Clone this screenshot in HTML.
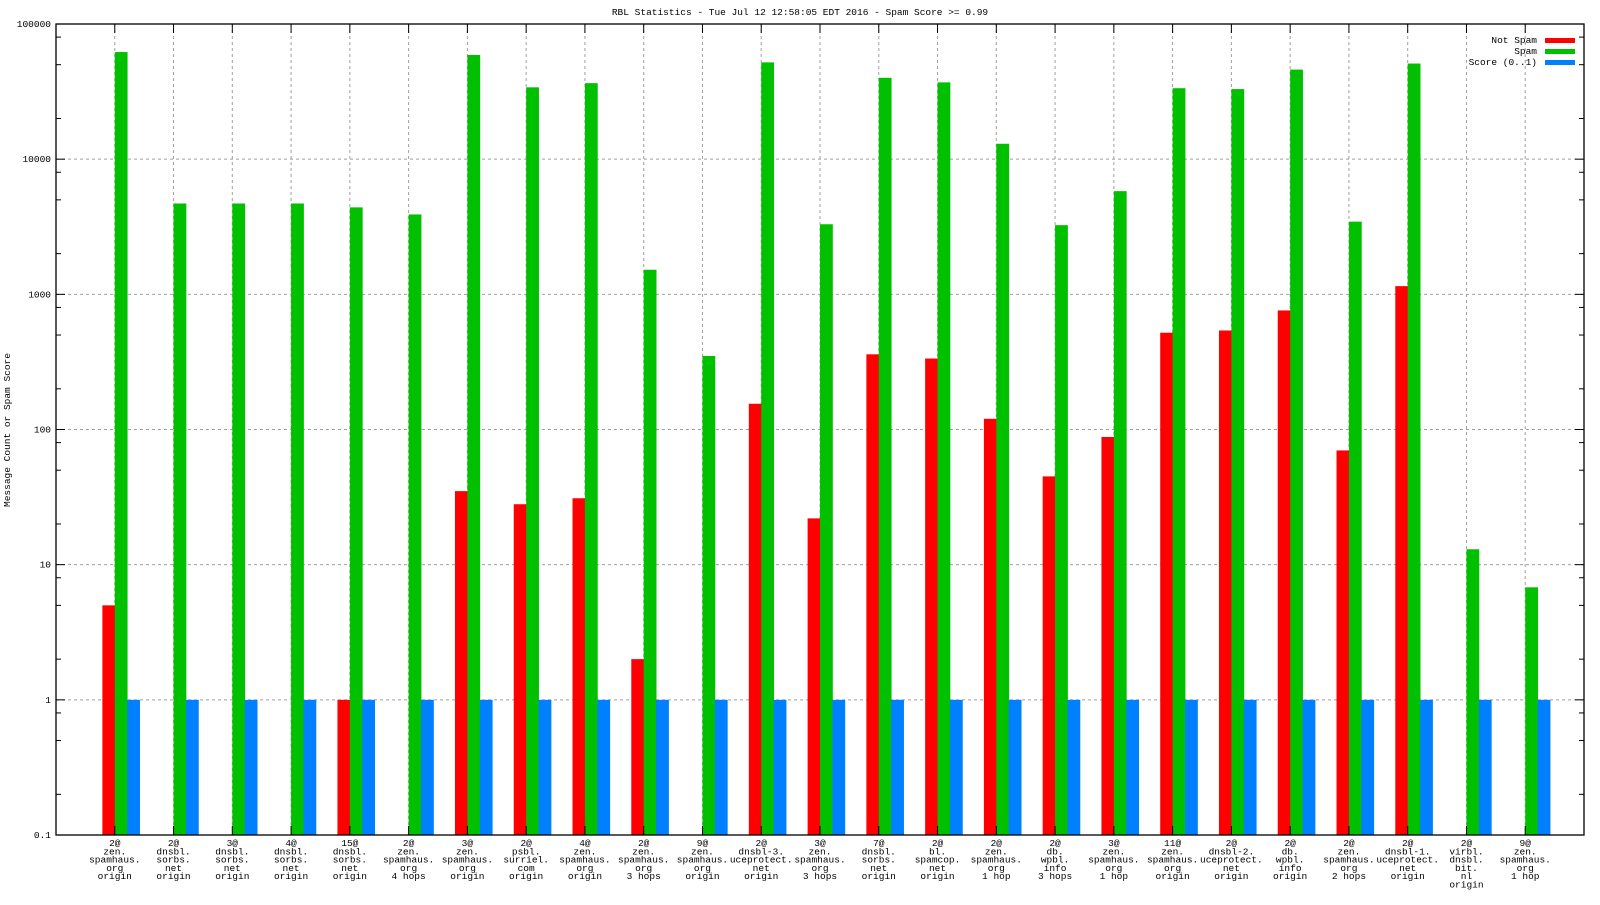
<!DOCTYPE html>
<html><head><meta charset="utf-8"><style>
html,body{margin:0;padding:0;background:#fff;}
svg text{font-family:"Liberation Mono","DejaVu Sans Mono",monospace;font-size:9.5px;fill:#000;}
</style></head><body>
<svg id="chart" width="1600" height="900" xmlns="http://www.w3.org/2000/svg">
<text x="800" y="15" text-anchor="middle">RBL Statistics - Tue Jul 12 12:58:05 EDT 2016 - Spam Score &gt;= 0.99</text>
<text transform="translate(10,430) rotate(-90)" text-anchor="middle">Message Count or Spam Score</text>
<g id="grid"></g><g id="bars"></g><g id="axes"></g><g id="legend"></g>
</svg>
<script>
const categories = [
 ["2@","zen.","spamhaus.","org","origin"],
 ["2@","dnsbl.","sorbs.","net","origin"],
 ["3@","dnsbl.","sorbs.","net","origin"],
 ["4@","dnsbl.","sorbs.","net","origin"],
 ["15@","dnsbl.","sorbs.","net","origin"],
 ["2@","zen.","spamhaus.","org","4 hops"],
 ["3@","zen.","spamhaus.","org","origin"],
 ["2@","psbl.","surriel.","com","origin"],
 ["4@","zen.","spamhaus.","org","origin"],
 ["2@","zen.","spamhaus.","org","3 hops"],
 ["9@","zen.","spamhaus.","org","origin"],
 ["2@","dnsbl-3.","uceprotect.","net","origin"],
 ["3@","zen.","spamhaus.","org","3 hops"],
 ["7@","dnsbl.","sorbs.","net","origin"],
 ["2@","bl.","spamcop.","net","origin"],
 ["2@","zen.","spamhaus.","org","1 hop"],
 ["2@","db.","wpbl.","info","3 hops"],
 ["3@","zen.","spamhaus.","org","1 hop"],
 ["11@","zen.","spamhaus.","org","origin"],
 ["2@","dnsbl-2.","uceprotect.","net","origin"],
 ["2@","db.","wpbl.","info","origin"],
 ["2@","zen.","spamhaus.","org","2 hops"],
 ["2@","dnsbl-1.","uceprotect.","net","origin"],
 ["2@","virbl.","dnsbl.","bit.","nl","origin"],
 ["9@","zen.","spamhaus.","org","1 hop"]
];
const notSpam = [5,null,null,null,1,null,35,28,31,2,null,155,22,360,335,120,45,88,520,540,760,70,1150,null,null];
const spam = [62000,4700,4700,4700,4400,3900,59000,34000,36500,1520,350,52000,3300,40000,37000,13000,3250,5800,33500,33000,46000,3450,51000,13,6.8];
const score = [1,1,1,1,1,1,1,1,1,1,1,1,1,1,1,1,1,1,1,1,1,1,1,1,1];
const yTicks = [0.1,1,10,100,1000,10000,100000];
const yTickLabels = ["0.1","1","10","100","1000","10000","100000"];
const seriesNames = ["Not Spam","Spam","Score (0..1)"];

const NS="http://www.w3.org/2000/svg";
const L=56,R=1584,T=24,B=835;
const xStep=(R-L)/(categories.length+1);
function xPos(i){return L+xStep*(i+1);}
function yPos(v){return B-(Math.log10(v)+1)*(B-T)/6;}
function mk(tag,attrs,parent){const e=document.createElementNS(NS,tag);for(const k in attrs)e.setAttribute(k,attrs[k]);parent.appendChild(e);return e;}
const grid=document.getElementById('grid'),bars=document.getElementById('bars'),axes=document.getElementById('axes'),legend=document.getElementById('legend');

yTicks.forEach((v,k)=>{
  const y=yPos(v);
  if(k>0&&k<yTicks.length-1){const g=mk('line',{x1:L,x2:R,y1:y,y2:y,stroke:'#a0a0a0','stroke-dasharray':'3,3'},grid);
  
  }
  mk('line',{x1:L,x2:L+9,y1:y,y2:y,stroke:'#000'},axes);
  mk('line',{x1:R-9,x2:R,y1:y,y2:y,stroke:'#000'},axes);
  const t=mk('text',{x:L-5,y:y+3,'text-anchor':'end'},axes);t.textContent=yTickLabels[k];
  
  
  if(k<yTicks.length-1){[2,5,8].forEach(m=>{const yy=yPos(v*m);
    mk('line',{x1:L,x2:L+5,y1:yy,y2:yy,stroke:'#000'},axes);
    mk('line',{x1:R-5,x2:R,y1:yy,y2:yy,stroke:'#000'},axes);});}
});
const colors=['#ff0000','#00c000','#0080ff'];
const bw=12.4;
categories.forEach((c,i)=>{
  const x=xPos(i);
  const g=mk('line',{x1:x,x2:x,y1:T,y2:B,stroke:'#a0a0a0','stroke-dasharray':'3,3'},grid);
  
  
  mk('line',{x1:x,x2:x,y1:B,y2:B-9,stroke:'#000'},axes);
  mk('line',{x1:x,x2:x,y1:T,y2:T+9,stroke:'#000'},axes);
  [notSpam,spam,score].forEach((arr,s)=>{
    const v=arr[i]; if(v==null) return;
    const y=yPos(v);
    const r=mk('rect',{x:x-bw+s*bw,y:y,width:bw+0.4,height:B-y,fill:colors[s]},bars);
    
    
  });
  const t=mk('text',{x:x,y:B+11,'text-anchor':'middle'},axes);
  
  
  c.forEach((line,j)=>{const ts=mk('tspan',{x:x,dy:j?8.3:0},t);ts.textContent=line;});
});
mk('rect',{x:L,y:T,width:R-L,height:B-T,fill:'none',stroke:'#000','stroke-width':1.3},axes);
seriesNames.forEach((n,s)=>{
  const y=40+s*11;
  const t=mk('text',{x:1537,y:y+3,'text-anchor':'end'},legend);t.textContent=n;
  
  
  const r=mk('rect',{x:1545,y:y-2,width:30,height:5,fill:colors[s]},legend);
  
  
});
</script>
</body></html>
